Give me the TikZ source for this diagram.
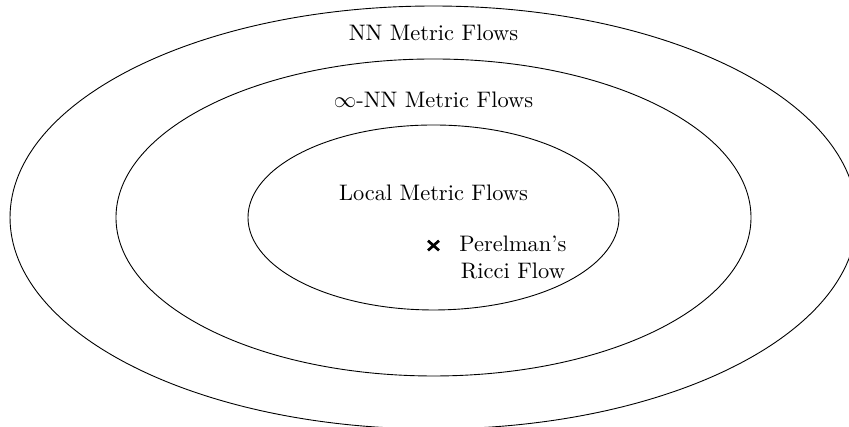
\documentclass[tikz,border=0pt]{standalone}
\usepackage{amsmath}
\usepackage{amssymb}
\usepackage{tikz}
\usetikzlibrary{shapes.misc}

\begin{document}
\begin{tikzpicture}
%%%%% Frame %%%%%
\useasboundingbox (-6.791,-3.282) rectangle (6.509,3.407);
\clip (-6.791,-3.282) rectangle (6.509,3.407);
%%%%% Sets %%%%%
\draw (0,0) ellipse (6.634 and 3.313);
\draw (0,0) ellipse (4.974 and 2.483);
\draw (0,0) ellipse (2.906 and 1.449);
%%%%% Labels %%%%%
\node (nnflows) at (0,2.890) {NN Metric Flows};
\node (infflows) at (0,1.841) {$\infty$-NN Metric Flows};
\node (localflows) at (0,0.384) {Local Metric Flows};
\node[cross out, draw, line width=1.2pt, minimum width=0.13cm, minimum height=0.11cm, inner sep=0pt] (ricci) at (0,-0.44) {};
\node[align=center] (perelman) at (1.245,-0.627) {Perelman's\\Ricci Flow};
\end{tikzpicture}
\end{document}
